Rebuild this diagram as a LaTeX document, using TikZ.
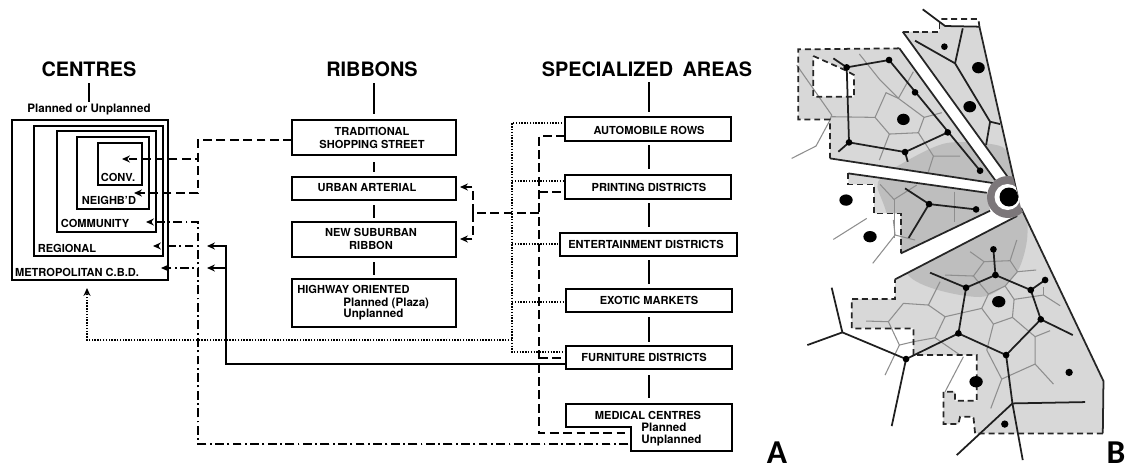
\documentclass[tikz,border=0pt]{standalone}
\usepackage{fontspec}
\setmainfont{TeX Gyre Heros}
\newfontfamily\panelfont{Carlito}
\usetikzlibrary{arrows.meta,fit}
\definecolor{mapfill}{HTML}{D8D8D8}
\definecolor{mapblob}{HTML}{BEBEBE}
\definecolor{mapgray}{HTML}{8E8E8E}
\definecolor{mapring}{HTML}{7C777A}
\newcommand{\sectorA}{(368,95) -- (478,95) -- (478,70) -- (495,78) -- (598,80) -- (714,594) -- (681,528) -- cycle}
\newcommand{\sectorB}{(55,148) -- (358,145) -- (645,540) -- (639,549) -- (150,475) -- (150,358) -- (55,358) -- cycle}
\newcommand{\sectorC}{(205,520) -- (620,578) -- (630,632) -- (362,760) -- (362,640) -- (282,640) -- (282,553) -- (205,553) -- cycle}
\newcommand{\sectorD}{(345,178) -- (711,-12) -- (723,-36) -- (970,483) -- (968,640) -- (585,640) -- (580,590) -- (540,590) -- (535,612) -- (490,612) -- (490,515) -- (525,515) -- (525,542) -- (590,542) -- (590,405) -- (400,405) -- (400,325) -- (215,325) -- (215,237) -- (345,237) -- cycle}
\newcommand{\mapblobline}{plot[smooth cycle] coordinates {(1000,146) (947,143) (903,163) (878,182) (885,208) (910,277) (980,297) (1015,275) (1027,240) (1025,200) (1012,165)}}
\tikzset{
  box/.style={draw,line width=1pt,inner sep=0pt,outer sep=0pt},
  head/.style={font=\bfseries\fontsize{11.3}{11.3}\selectfont,inner sep=0pt},
  boxtext/.style={font=\bfseries\fontsize{6.3}{7.4}\selectfont,inner sep=0pt,align=center},
  subtext/.style={font=\bfseries\fontsize{6.6}{7.4}\selectfont,inner sep=0pt},
  paneltext/.style={font=\panelfont\bfseries\fontsize{19}{19}\selectfont,inner sep=0pt},
  stem/.style={line width=1pt},
  tip/.style={-{Stealth[length=4.5pt,width=4pt]}},
  dashline/.style={line width=.8pt,dash pattern=on 5pt off 2.6pt},
  dotline/.style={line width=1.1pt,dash pattern=on .8pt off .8pt},
  chainline/.style={line width=.8pt,dash pattern=on 5pt off 2pt on 1pt off 2pt},
  solidline/.style={line width=.9pt},
  upperA/.style={shift={(780,0)},x=.0667mm,y=-.0667mm},
  lowerB/.style={shift={(780,220)},x=.0667mm,y=-.0667mm},
  maproad/.style={line width=1pt,color=black!88},
  mapedge/.style={line width=1pt,color=black!85},
  mapdash/.style={line width=1pt,color=black!85,dash pattern=on 3.4pt off 2.2pt},
  mapcell/.style={line width=.6pt,color=mapgray}
}
\begin{document}
\begin{tikzpicture}[x=.2mm,y=-.2mm]
  \useasboundingbox (0,0) rectangle (1127,468);
  % Centres
  \node[head] (centresHead) at (89,69) {CENTRES};
  \node[subtext] (plannedOr) at (89,110) {Planned or Unplanned};
  \coordinate (centresStem) at (88.7,83);
  \draw[stem] (centresStem) -- (centresStem |- 0,102);
  \node[box,fit={(12,120)(168,280)}] (metro) {};
  \node[box,fit={(34,126)(163,256)}] (regional) {};
  \node[box,fit={(57,131)(156,232)}] (community) {};
  \node[box,fit={(77,137)(149,209)}] (neighb) {};
  \node[box,fit={(98,143)(142,185)}] (conv) {};
  \node[boxtext] at (118,177) {CONV.};
  \node[boxtext] at (109,200) {NEIGHB'D};
  \node[boxtext] at (95,223) {COMMUNITY};
  \node[boxtext] at (67,248) {REGIONAL};
  \node[boxtext] at (77,272) {METROPOLITAN C.B.D.};
  % Ribbons
  \node[head] (ribbonsHead) at (372,69) {RIBBONS};
  \node[box,fit={(292,120)(456,155)}] (street) {};
  \node[box,fit={(292,177)(456,200)}] (arterial) {};
  \node[box,fit={(292,222)(456,257)}] (suburban) {};
  \node[box,fit={(292,279)(456,327)}] (highway) {};
  \node[boxtext] at (372,137.5) {TRADITIONAL\\SHOPPING STREET};
  \node[boxtext] at (367,188) {URBAN ARTERIAL};
  \node[boxtext] at (371,238.5) {NEW SUBURBAN\\RIBBON};
  \node[boxtext,anchor=west] at (297,289) {HIGHWAY ORIENTED};
  \node[subtext,anchor=west] at (343,303) {Planned (Plaza)};
  \node[subtext,anchor=west] at (343,315) {Unplanned};
  \draw[stem] (374,83) -- (374,114);
  \draw[stem] (374,162) -- (374,172);
  \draw[stem] (374,205) -- (374,218);
  \draw[stem] (374,262) -- (374,275);
  % Specialized areas
  \node[head] (areasHead) at (647,69) {SPECIALIZED\hspace{.2em} AREAS};
  \node[box,fit={(565,117)(731,141)}] (automobile) {};
  \node[box,fit={(565,175)(731,199)}] (printing) {};
  \node[box,fit={(560,233)(737,256)}] (entertainment) {};
  \node[box,fit={(566,289)(732,312)}] (exotic) {};
  \node[box,fit={(566,346)(732,369)}] (furniture) {};
  \draw[line width=1pt] (566,404) -- (732,404) -- (732,451) -- (631,451) -- (631,427) -- (566,427) -- cycle;
  \node[boxtext] at (649,130) {AUTOMOBILE ROWS};
  \node[boxtext] at (649,187) {PRINTING DISTRICTS};
  \node[boxtext] at (646,244) {ENTERTAINMENT DISTRICTS};
  \node[boxtext] at (649,300) {EXOTIC MARKETS};
  \node[boxtext] at (644,357) {FURNITURE DISTRICTS};
  \node[boxtext] at (648,415) {MEDICAL CENTRES};
  \node[subtext,anchor=west] at (641,427) {Planned};
  \node[subtext,anchor=west] at (641,441) {Unplanned};
  \draw[stem] (649,82) -- (649,112);
  \draw[stem] (649,145) -- (649,169);
  \draw[stem] (649,203) -- (649,227);
  \draw[stem] (649,260) -- (649,284);
  \draw[stem] (649,317) -- (649,342);
  \draw[stem] (649,375) -- (649,398);
  % Street to small centres
  \coordinate (streetBend) at (198,140);
  \coordinate (convTip) at (122,159);
  \coordinate (neighbTip) at (134,193);
  \draw[dashline,tip] (streetBend -| street.west) -- (streetBend) |- (convTip);
  \draw[dashline,tip] (streetBend -| street.west) -- (streetBend) |- (neighbTip);
  % Unplanned medical centres
  \coordinate (chainEnd) at (628,444);
  \coordinate (chainBend) at (198,444);
  \coordinate (communityTip) at (146,222);
  \coordinate (regionalTip) at (153,246);
  \coordinate (metroTip) at (161,268);
  \draw[chainline,tip] (chainEnd) -- (chainBend) |- (communityTip);
  \draw[chainline,tip] (chainEnd) -- (chainBend) |- (regionalTip);
  \draw[chainline,tip] (chainEnd) -- (chainBend) |- (metroTip);
  % Furniture to regional and metropolitan
  \coordinate (furnitureBend) at (226,364);
  \coordinate (solidTipA) at (207,246);
  \coordinate (solidTipB) at (207,268);
  \draw[solidline,tip] (furnitureBend -| furniture.west) -- (furnitureBend) |- (solidTipA);
  \draw[solidline,tip] (furnitureBend -| furniture.west) -- (furnitureBend) |- (solidTipB);
  % Dotted bus
  \coordinate (busTop) at (512,123);
  \coordinate (busBottom) at (512,352);
  \coordinate (busPrinting) at (512,181);
  \coordinate (busEntertainment) at (512,244);
  \coordinate (busExotic) at (512,302);
  \coordinate (busMetro) at (512,340);
  \coordinate (metroDotTip) at (87,288);
  \draw[dotline] (busTop -| automobile.west) -- (busTop) -- (busBottom) -- (busBottom -| furniture.west);
  \draw[dotline] (busPrinting) -- (busPrinting -| printing.west);
  \draw[dotline] (busEntertainment) -- (busEntertainment -| entertainment.west);
  \draw[dotline] (busExotic) -- (busExotic -| exotic.west);
  \draw[dotline,tip] (busMetro) -| (metroDotTip);
  % Dashed bus
  \coordinate (dashTop) at (539,136);
  \coordinate (dashBottom) at (539,433);
  \coordinate (dashEnd) at (628,433);
  \coordinate (dashPrinting) at (539,192);
  \coordinate (dashFurniture) at (539,358);
  \coordinate (dashBranch) at (539,213);
  \coordinate (branchJoin) at (473,213);
  \coordinate (arterialTip) at (460,187);
  \coordinate (suburbanTip) at (460,239);
  \draw[dashline] (dashTop -| automobile.west) -- (dashTop) -- (dashBottom) -- (dashEnd);
  \draw[dashline] (dashPrinting) -- (dashPrinting -| printing.west);
  \draw[dashline] (dashFurniture) -- (dashFurniture -| furniture.west);
  \draw[dashline] (dashBranch) -- (branchJoin);
  \draw[dashline,tip] (branchJoin) |- (arterialTip);
  \draw[dashline,tip] (branchJoin) |- (suburbanTip);
  \node[paneltext] (panelA) at (777,453) {A};
  \node[paneltext] (panelB) at (1116,453) {B};
  % Map: fills
  \begin{scope}[upperA]
    \fill[mapfill] \sectorA;
    \fill[mapfill] \sectorB;
    \fill[mapfill] \sectorC;
    \fill[white] (100,168) -- (195,210) -- (222,225) -- (222,290) -- (100,290) -- cycle;
  \end{scope}
  \begin{scope}[lowerB]
    \fill[mapfill] \sectorD;
  \end{scope}
  \begin{scope}
    \clip[upperA] \sectorA \sectorB \sectorC;
    \fill[mapblob] \mapblobline;
  \end{scope}
  \begin{scope}
    \clip[lowerB] \sectorD;
    \fill[mapblob] \mapblobline;
  \end{scope}
  % Map: upper sectors
  \begin{scope}[upperA]
    \draw[mapcell] (50,195) -- (155,345) -- (150,360) -- (108,438) -- (35,475);
    \draw[mapcell] (155,350) -- (285,352) -- (318,278) -- (355,295) -- (432,352) -- (415,398) -- (328,402) -- (285,352);
    \draw[mapcell] (238,162) -- (300,240) -- (355,295) -- (400,215);
    \draw[mapcell] (432,352) -- (485,338);
    \draw[mapcell] (415,398) -- (460,468) -- (540,468);
    \draw[mapcell] (460,468) -- (445,515);
    \draw[mapcell] (328,402) -- (298,480);
    \draw[mapcell] (300,553) -- (342,598) -- (410,555);
    \draw[mapcell] (342,598) -- (342,640) -- (342,715);
    \draw[mapcell] (522,575) -- (522,665);
    \draw[mapcell] (260,655) -- (160,718);
    \draw[mapedge] (368,95) -- (681,528);
    \draw[mapedge] (598,80) -- (714,594);
    \draw[mapedge] (358,145) -- (645,540);
    \draw[mapedge] (150,475) -- (639,549);
    \draw[mapedge] (205,520) -- (620,578);
    \draw[mapedge] (362,760) -- (630,632);
    \draw[mapdash] (368,95) -- (478,95) -- (478,70);
    \draw[mapdash] (484,57) -- (595,57) -- (598,80);
    \draw[mapdash] (358,145) -- (55,148) -- (55,358) -- (150,358) -- (150,475);
    \draw[mapdash] (100,168) -- (195,210) -- (222,225) -- (222,290) -- (100,290) -- cycle;
    \draw[mapdash] (205,520) -- (205,553) -- (282,553) -- (282,640) -- (362,640) -- (362,760);
    \draw[maproad] (428,28) -- (495,78) -- (598,80);
    \draw[maproad] (405,122) -- (525,190) -- (630,365) -- (660,372);
    \draw[maproad] (525,190) -- (548,85);
    \draw[maproad] (630,365) -- (618,435);
    \draw[maproad] (160,175) -- (200,202) -- (327,180) -- (600,512);
    \draw[maproad] (200,202) -- (207,427) -- (375,456) -- (503,397);
    \draw[maproad] (207,427) -- (175,455);
    \draw[maproad] (375,456) -- (383,485);
    \draw[maproad] (375,565) -- (447,612) -- (588,628);
    \draw[maproad] (447,612) -- (385,715);
    \foreach \spot in {(200,202),(327,180),(405,277),(503,397),(375,456),(207,427),(600,512),(447,612),(588,628)}
      \fill[black] \spot circle (10);
    \fill[black] (493,140) circle (10);
    \fill[black] (595,203) ellipse (19 and 17);
    \fill[black] (569,320) ellipse (19 and 17);
    \fill[black] (370,358) ellipse (19 and 17);
    \fill[black] (198,600) ellipse (20 and 17);
  \end{scope}
  % Map: lower sector
  \begin{scope}[lowerB]
    \draw[mapcell] (605,265) -- (640,312) -- (697,292) -- (702,238) -- (675,198) -- (625,222) -- cycle;
    \draw[mapcell] (702,238) -- (790,225) -- (840,257);
    \draw[mapcell] (790,225) -- (790,200);
    \draw[mapcell] (697,292) -- (765,350) -- (810,332);
    \draw[mapcell] (765,350) -- (765,432) -- (820,492);
    \draw[mapcell] (765,432) -- (665,477) -- (620,390);
    \draw[mapcell] (665,477) -- (632,565);
    \draw[mapcell] (640,312) -- (620,390);
    \draw[mapcell] (605,265) -- (495,290) -- (445,255) -- (370,250) -- (325,305) -- (258,303);
    \draw[mapcell] (495,290) -- (465,353) -- (400,365) -- (358,375) -- (325,305);
    \draw[mapcell] (465,353) -- (540,405);
    \draw[mapcell] (445,255) -- (480,185);
    \draw[mapcell] (358,375) -- (315,465);
    \draw[mapcell] (625,222) -- (580,168) -- (495,165);
    \draw[mapcell] (580,168) -- (612,125) -- (570,95);
    \draw[mapcell] (612,125) -- (690,122) -- (710,60);
    \draw[mapcell] (690,122) -- (712,155) -- (768,150);
    \draw[mapcell] (712,155) -- (675,198);
    \draw[mapcell] (550,410) -- (495,515);
    \draw[mapcell] (345,45) -- (278,130);
    \draw[mapcell] (345,45) -- (405,60);
    \draw[mapcell] (345,45) -- (340,0);
    \draw[mapedge] (345,178) -- (711,-12);
    \draw[mapedge] (723,-36) -- (970,483) -- (968,640);
    \draw[mapdash] (968,640) -- (585,640) -- (580,590) -- (540,590) -- (535,612) -- (490,612) -- (490,515) -- (525,515) -- (525,542) -- (590,542) -- (590,405) -- (400,405) -- (400,325) -- (215,325) -- (215,237) -- (345,237) -- (345,178);
    \draw[maproad] (558,203) -- (646,165) -- (752,210) -- (782,298) -- (678,405) -- (535,340) -- cycle;
    \draw[maproad] (640,88) -- (646,165);
    \draw[maproad] (795,180) -- (752,210);
    \draw[maproad] (450,158) -- (558,203);
    \draw[maproad] (782,298) -- (878,345);
    \draw[maproad] (678,405) -- (697,550) -- (728,720);
    \draw[maproad] (697,550) -- (915,546);
    \draw[maproad] (697,550) -- (530,705);
    \draw[maproad] (535,340) -- (378,417) -- (187,337) -- (155,203);
    \draw[maproad] (187,337) -- (82,375);
    \draw[maproad] (378,417) -- (335,618);
    \foreach \spot in {(558,203),(646,165),(752,210),(782,298),(678,405),(535,340),(378,417),(640,88),(795,180)}
      \fill[black] \spot circle (10);
    \fill[black] (270,50) ellipse (20 and 17);
    \fill[black] (656,245) ellipse (20 and 17);
    \fill[black] (588,485) ellipse (20 and 17);
    \fill[black] (867,457) circle (11);
    \fill[black] (674,612) circle (11);
  \end{scope}
  % Map: centre
  \begin{scope}
    \clip (900,100) -- (1006,150) -- (1019,200) -- (1021,208) -- (1040,245) -- (900,300) -- cycle;
    \fill[mapring] (1008,197) circle (21);
    \fill[white] (1007.5,197) circle (13);
    \fill[black] (1009,197) circle (9.5);
  \end{scope}
\end{tikzpicture}
\end{document}
